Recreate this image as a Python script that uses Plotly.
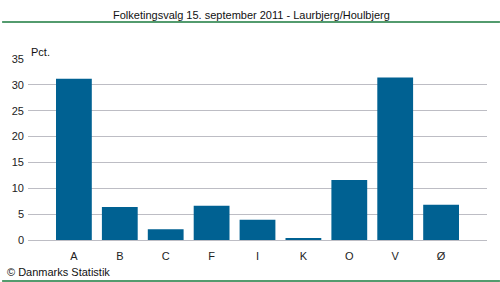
import plotly.graph_objects as go

categories = ["A", "B", "C", "F", "I", "K", "O", "V", "Ø"]
values = [31.2, 6.4, 2.1, 6.6, 3.9, 0.2, 11.6, 31.4, 6.8]
y_ticks = [0, 5, 10, 15, 20, 25, 30, 35]

W, H = 500, 282
L, R, T, B = 26, 13, 59, 42
pw, ph = W - L - R, H - T - B

def px(x):
    return (x - L) / pw

def py(y):
    return (H - B - y) / ph

font = "Liberation Sans, Arial, sans-serif"

fig = go.Figure(go.Bar(x=list(range(len(categories))), y=values,
                       marker_color="#006192", marker_line_width=0))
fig.update_layout(
    width=W, height=H, margin=dict(l=L, r=R, t=T, b=B),
    paper_bgcolor="white", plot_bgcolor="white",
    bargap=0.22, showlegend=False,
    font=dict(family=font, size=11, color="#222"),
    xaxis=dict(tickmode="array", tickvals=list(range(len(categories))),
               ticktext=categories, range=[-1, len(categories)],
               showgrid=False, zeroline=False, showline=False, ticks="",
               tickfont=dict(size=11), ticklabelstandoff=8),
    yaxis=dict(range=[0, 35], tickvals=y_ticks, showgrid=True,
               gridcolor="#bdbdc4", gridwidth=1, zeroline=True,
               zerolinecolor="#bdbdc4", zerolinewidth=1, ticks="",
               tickfont=dict(size=11), ticklabelstandoff=3),
    shapes=[
        dict(type="line", xref="paper", yref="paper", x0=px(0), x1=px(W),
             y0=py(22), y1=py(22), line=dict(color="#1a7a3e", width=1.3)),
        dict(type="line", xref="paper", yref="paper", x0=px(0), x1=px(W),
             y0=py(281), y1=py(281), line=dict(color="#1a7a3e", width=1.5)),
    ],
    annotations=[
        dict(text="Folketingsvalg 15. september 2011 - Laurbjerg/Houlbjerg",
             xref="paper", yref="paper", x=px(250), y=py(15), showarrow=False,
             xanchor="center", yanchor="middle", font=dict(size=11, color="#111")),
        dict(text="Pct.", xref="paper", yref="paper", x=px(27), y=py(52),
             showarrow=False, xanchor="left", yanchor="middle",
             font=dict(size=11, color="#111")),
        dict(text="© Danmarks Statistik", xref="paper", yref="paper",
             x=px(3), y=py(272), showarrow=False, xanchor="left",
             yanchor="middle", font=dict(size=11, color="#111")),
    ],
)
fig.write_html("out.html")
